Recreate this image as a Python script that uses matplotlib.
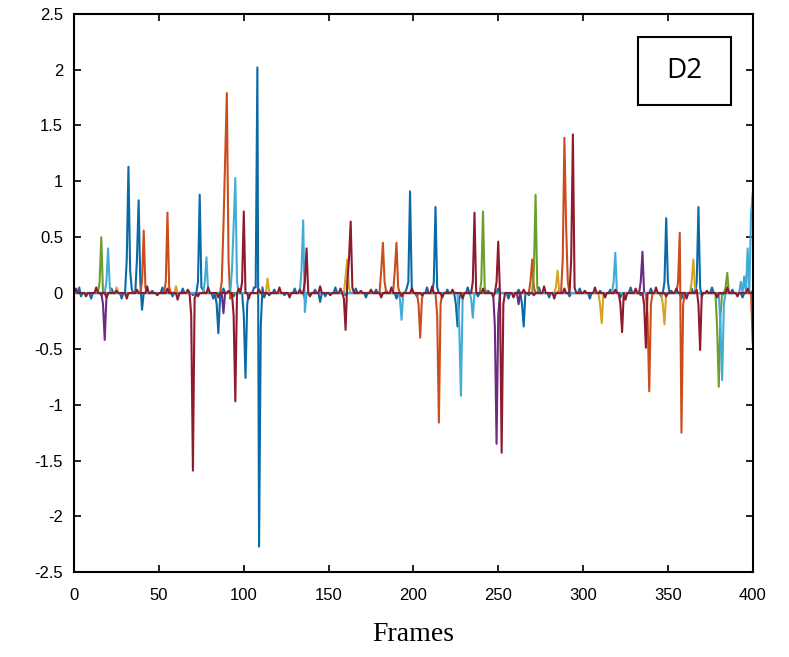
import numpy as np
import matplotlib
matplotlib.use("Agg")
import matplotlib.pyplot as plt
from matplotlib.patches import Rectangle
from matplotlib.ticker import FormatStrFormatter

# spike data: (frame, value)
blue_pts = [(3, 0.05), (10, -0.05), (31, 0.3), (32, 1.13), (33, 0.2), (37, 0.3), (38, 0.83),
            (39, 0.1), (40, -0.15), (73, 0.1), (74, 0.88), (75, 0.05), (84, -0.1), (85, -0.36),
            (86, -0.05), (100, -0.2), (101, -0.76), (102, -0.1), (107, 0.05), (108, 2.02),
            (109, -2.27), (110, -0.3), (111, 0.05), (145, -0.08), (197, 0.1), (198, 0.91),
            (199, 0.05), (212, 0.1), (213, 0.77), (214, 0.05), (225, -0.1), (226, -0.3),
            (227, -0.05), (264, -0.1), (265, -0.3), (266, 0.0), (348, 0.1), (349, 0.67),
            (350, 0.1), (367, 0.1), (368, 0.77), (369, 0.05)]
orange_pts = [(40, 0.1), (41, 0.56), (42, 0.05), (54, 0.1), (55, 0.72), (56, 0.05), (87, 0.1),
              (88, 0.6), (89, 1.2), (90, 1.79), (91, 0.3), (92, -0.05), (181, 0.2), (182, 0.45),
              (183, 0.1), (189, 0.2), (190, 0.45), (191, 0.05), (203, -0.1), (204, -0.4),
              (205, -0.05), (214, -0.2), (215, -1.16), (216, -0.1), (269, 0.1), (270, 0.3),
              (271, 0.05), (288, 0.3), (289, 1.39), (290, 0.6), (291, 0.1), (338, -0.2),
              (339, -0.88), (340, -0.1), (356, 0.1), (357, 0.54), (358, -1.25), (359, -0.1),
              (399, 0.0), (400, -0.44)]
yellow_pts = [(25, 0.05), (60, 0.06), (114, 0.13), (115, 0.0), (160, 0.15), (161, 0.3),
              (162, 0.05), (284, 0.05), (285, 0.2), (286, 0.0), (310, -0.1), (311, -0.27),
              (312, 0.0), (347, -0.1), (348, -0.28), (349, 0.0), (364, 0.1), (365, 0.3), (366, 0.05)]
purple_pts = [(17, -0.1), (18, -0.42), (19, -0.05), (88, -0.18), (89, 0.0), (248, -0.3),
              (249, -1.35), (250, -0.2), (262, -0.1), (334, 0.1), (335, 0.37), (336, 0.0)]
green_pts = [(15, 0.1), (16, 0.5), (17, 0.0), (240, 0.1), (241, 0.73), (242, 0.05), (271, 0.2),
             (272, 0.88), (273, 0.05), (379, -0.3), (380, -0.84), (381, -0.2), (384, 0.05),
             (385, 0.18), (386, 0.0)]
lblue_pts = [(19, 0.1), (20, 0.4), (21, 0.05), (77, 0.1), (78, 0.32), (79, 0.0), (93, 0.2),
             (94, 0.6), (95, 1.03), (96, 0.1), (134, 0.2), (135, 0.65), (136, -0.17), (137, 0.0),
             (192, -0.05), (193, -0.24), (194, 0.0), (227, -0.3), (228, -0.92), (229, -0.05),
             (234, -0.05), (235, -0.22), (236, 0.0), (318, 0.1), (319, 0.36), (320, 0.0),
             (381, -0.3), (382, -0.78), (383, -0.1), (393, 0.1), (395, 0.15), (397, 0.4),
             (399, 0.7), (400, 0.9)]
dred_pts = [(69, -0.2), (70, -1.59), (71, -0.05), (94, -0.2), (95, -0.97), (96, 0.0), (99, 0.1),
            (100, 0.73), (101, 0.0), (136, 0.1), (137, 0.4), (138, 0.0), (159, -0.05),
            (160, -0.33), (161, 0.1), (162, 0.3), (163, 0.64), (164, 0.05), (235, 0.1),
            (236, 0.72), (237, 0.0), (249, 0.1), (250, 0.46), (251, 0.0), (252, -1.43),
            (253, -0.1), (293, 0.3), (294, 1.42), (295, 0.05), (322, -0.1), (323, -0.35),
            (324, 0.0), (336, -0.1), (337, -0.49), (338, 0.0), (368, -0.1), (369, -0.51), (370, 0.0)]

# small wiggle of the band around zero (every 6 frames)
dred_wiggle = [0.04, -0.03, 0.05, -0.04, 0.02, -0.05, 0.03, 0.06, -0.02, 0.04, -0.06, 0.03,
               -0.03, 0.05, -0.04, 0.02, 0.04, -0.05, 0.03, -0.02, 0.05, -0.04, 0.03, -0.03,
               0.06, -0.02, 0.04, -0.05, 0.02, 0.03, -0.04, 0.05, -0.03, 0.04, -0.02, 0.06,
               -0.04, 0.03, -0.05, 0.02, 0.04, -0.03, 0.05, -0.04, 0.03, -0.02, 0.06, -0.05,
               0.04, -0.03, 0.02, 0.05, -0.04, 0.03, -0.06, 0.04, -0.02, 0.05, -0.03, 0.04,
               -0.05, 0.03, 0.02, -0.04, 0.05, -0.03, 0.04]
blue_wiggle = [-0.03, 0.05, -0.02, 0.04, -0.05, 0.03, -0.04, 0.02, 0.05, -0.03, 0.04, -0.02,
               0.03, -0.05, 0.04, -0.03, 0.02, 0.05, -0.04, 0.03, -0.02, 0.04, -0.05, 0.03,
               -0.03, 0.05, -0.02, 0.04, -0.04, 0.03, 0.02, -0.05, 0.04, -0.03, 0.05, -0.02,
               0.03, -0.04, 0.05, -0.03, 0.02, 0.04, -0.05, 0.03, -0.02, 0.05, -0.04, 0.03,
               -0.03, 0.04, -0.05, 0.02, 0.03, -0.04, 0.05, -0.02, 0.04, -0.03, 0.02, -0.05,
               0.04, -0.03, 0.05, -0.02, 0.03, -0.04, 0.02]

n_frames = 401
colors = ["#0a6aa8", "#cc4d1c", "#d9a224", "#6e2a80", "#6c9e2c", "#42acd8", "#8e1a2e"]
series = [blue_pts, orange_pts, yellow_pts, purple_pts, green_pts, lblue_pts, dred_pts]
wiggles = {0: (blue_wiggle, 4), 6: (dred_wiggle, 1)}

fig = plt.figure(figsize=(7.89, 6.57), dpi=100)
ax = fig.add_axes([0.094, 0.129, 0.860, 0.850])

x = np.arange(n_frames)
for i, pts in enumerate(series):
    y = np.zeros(n_frames)
    if i in wiggles:
        w, start = wiggles[i]
        fr = np.arange(start, n_frames, 6)[:len(w)]
        y[fr] = w[:len(fr)]
    for f, v in pts:
        y[f] = v
    ax.plot(x, y, color=colors[i], lw=1.5)

ax.set_xlim(0, 400)
ax.set_ylim(-2.5, 2.5)
ax.set_xticks(np.arange(0, 401, 50))
ax.set_yticks(np.arange(-2.5, 2.51, 0.5))
ax.yaxis.set_major_formatter(FormatStrFormatter('%g'))
ax.tick_params(direction='in', top=True, right=True, length=5, width=1.2, labelsize=12)
ax.tick_params(axis='x', pad=11)
ax.tick_params(axis='y', pad=8)
for lab in ax.get_xticklabels() + ax.get_yticklabels():
    lab.set_family(['Liberation Sans', 'DejaVu Sans'])
for s in ax.spines.values():
    s.set_linewidth(1.5)

ax.set_xlabel("Frames", family=['Liberation Serif', 'DejaVu Serif'], fontsize=20, labelpad=14)

# D2 box
ax.add_patch(Rectangle((0.831, 0.837), 0.137, 0.122, transform=ax.transAxes,
                       fill=True, facecolor='white', edgecolor='black', lw=1.5, zorder=5))
ax.text(0.8995, 0.898, "D2", transform=ax.transAxes, ha='center', va='center',
        fontsize=20, family=['Open Sans', 'DejaVu Sans'], zorder=6)

fig.savefig("out.png", dpi=100)
